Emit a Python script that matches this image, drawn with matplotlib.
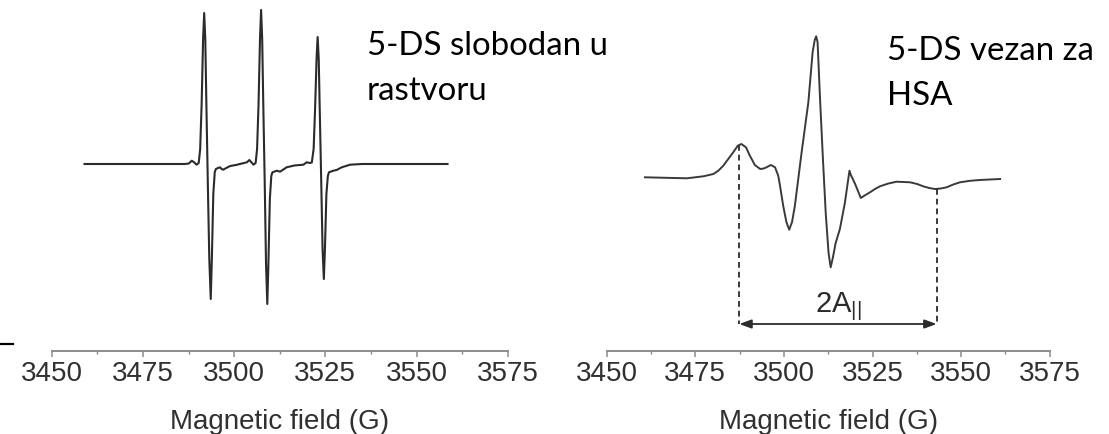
import matplotlib
matplotlib.use("Agg")
import matplotlib.pyplot as plt
from matplotlib.ticker import MultipleLocator

# ---- spectra: magnetic field (G) and derivative signal (arb. units) ----
free_field = [3459.0, 3486.5, 3487.6, 3488.4, 3489.1, 3489.7, 3490.3, 3490.7,
              3491.1, 3491.5, 3491.8, 3492.1, 3492.4, 3492.8, 3493.2, 3493.6,
              3493.9, 3494.3, 3494.7, 3495.0, 3495.6, 3496.1, 3496.6, 3497.0,
              3497.6, 3498.9, 3500.5, 3502.5, 3503.5, 3504.2, 3504.8, 3505.3,
              3505.9, 3506.3, 3506.7, 3507.1, 3507.4, 3507.7, 3508.0, 3508.4,
              3508.75, 3509.1, 3509.4, 3509.8, 3510.2, 3510.5, 3511.7, 3512.6,
              3514.4, 3516.5, 3519.0, 3519.9, 3520.7, 3521.3, 3521.8, 3522.2,
              3522.6, 3522.9, 3523.2, 3523.5, 3523.9, 3524.25, 3524.6, 3524.9,
              3525.3, 3525.7, 3526.0, 3527.2, 3528.1, 3529.5, 3531.8, 3535.0,
              3558.5]
free_signal = [0, 0, 0.5, 3.3, 1.5, -0.7, 1.0, 15,
               60, 125, 151, 125, 60, -20, -95, -135,
               -95, -30, -8, -5, -4, -3.3, -5.0, -5.7,
               -4.5, -2.0, -1.0, 0.8, 1.7, 4.0, 1.5, -0.7,
               1.0, 15, 60, 125, 154, 125, 60, -20,
               -100, -140, -100, -35, -12, -8.3, -6.7, -7.7,
               -3.3, -1.5, -0.7, 1.7, 1.0, 1.5, 15, 55,
               105, 127, 105, 50, -20, -85, -115, -85,
               -30, -12, -8.3, -6.7, -6.0, -3.3, -0.7, 0,
               0]

bound_field = [3460.8, 3472.6, 3477.3, 3480.1, 3481.5, 3482.9, 3484.3, 3485.7,
               3487.0, 3488.0, 3489.3, 3490.4, 3491.8, 3493.3, 3494.3, 3495.1,
               3496.3, 3497.5, 3498.4, 3498.9, 3499.8, 3500.7, 3501.5, 3502.3,
               3503.1, 3505.0, 3506.9, 3508.1, 3508.7, 3509.1, 3509.5, 3510.2,
               3511.0, 3511.8, 3512.6, 3513.2, 3513.8, 3514.6, 3515.8, 3517.2,
               3518.5, 3518.9, 3520.1, 3521.7, 3523.0, 3524.3, 3525.7, 3527.1,
               3529.5, 3531.8, 3535.6, 3537.6, 3539.3, 3541.0, 3542.6, 3544.3,
               3545.9, 3547.8, 3549.7, 3552.5, 3555.3, 3561.0]
bound_signal = [0.7, -0.3, 1.7, 4, 7.3, 12.3, 19, 25.7,
                32.3, 34, 30.7, 22.3, 13, 9, 9.5, 10.7,
                13, 10.7, 2.3, -7.7, -27.7, -44, -51.7, -44,
                -27.7, 25.7, 75.7, 125.7, 138, 141.7, 136, 79,
                20, -35, -75, -89.3, -80, -65, -51, -25,
                7.3, 3, -6, -20, -17, -14.3, -11, -8.3,
                -5.5, -3.7, -4.3, -6.0, -8.3, -10, -11, -10.5,
                -9.3, -6.5, -4.3, -2.8, -2, -1]

# hyperfine splitting 2A|| markers on the bound spectrum (G)
a_par_low = 3487.4
a_par_high = 3543.1

field_ticks = [3450, 3475, 3500, 3525, 3550, 3575]

assert len(free_field) == len(free_signal)
assert len(bound_field) == len(bound_signal)

tick_font = "Liberation Sans"
note_font = "Lato"
axis_grey = "#8c8c8c"
trace_col = "#2b2b2b"

plt.rcParams["mathtext.fontset"] = "custom"
plt.rcParams["mathtext.rm"] = tick_font
plt.rcParams["mathtext.it"] = tick_font

W, H = 1109, 435
fig = plt.figure(figsize=(W / 100, H / 100), dpi=100)
fig.patch.set_facecolor("white")


def px_axes(x0, x1, y_axis):
    """Axes whose bottom spine sits at pixel row y_axis, spanning x0..x1."""
    return fig.add_axes([x0 / W, (H - y_axis) / H, (x1 - x0) / W, y_axis / H])


def style_axis(ax):
    ax.set_xlim(field_ticks[0], field_ticks[-1])
    for s in ("left", "right", "top"):
        ax.spines[s].set_visible(False)
    ax.spines["bottom"].set_color(axis_grey)
    ax.spines["bottom"].set_linewidth(1.4)
    ax.set_yticks([])
    ax.set_xticks(field_ticks)
    ax.xaxis.set_minor_locator(MultipleLocator(12.5))
    ax.tick_params(axis="x", which="major", direction="out", length=4,
                   width=1.1, color=axis_grey, pad=3, labelsize=20,
                   labelcolor="#303030")
    ax.tick_params(axis="x", which="minor", direction="out", length=2.2,
                   width=1.0, color=axis_grey)
    for lab in ax.get_xticklabels():
        lab.set_fontfamily(tick_font)
    ax.patch.set_alpha(0)


# ---- free spin label ----
ax1 = px_axes(51.7, 507.7, 351.7)
ax1.set_ylim(165 - 351.7, 165)
style_axis(ax1)
ax1.plot(free_field, free_signal, color=trace_col, lw=1.5,
         solid_joinstyle="round")

# ---- HSA-bound spin label ----
ax2 = px_axes(606.7, 1049.7, 351.7)
ax2.set_ylim(179 - 351.7, 179)
style_axis(ax2)
ax2.plot(bound_field, bound_signal, color="#3a3a3a", lw=1.4,
         solid_joinstyle="round")

dash = (0, (3.2, 2.2))
ax2.plot([a_par_low, a_par_low], [33, -146], color="#2b2b2b", lw=1.3,
         linestyle=dash)
ax2.plot([a_par_high, a_par_high], [-11, -146], color="#2b2b2b", lw=1.3,
         linestyle=dash)
ax2.annotate("", xy=(a_par_low, -146), xytext=(a_par_high, -146),
             arrowprops=dict(arrowstyle="<|-|>,head_length=0.6,head_width=0.22",
                             color="#2b2b2b", lw=1.3, shrinkA=0, shrinkB=0,
                             mutation_scale=12))
ax2.text((a_par_low + a_par_high) / 2, -133, r"$\mathregular{2A_{||}}$",
         ha="center", va="baseline", fontsize=21, color="#2b2b2b",
         fontfamily=tick_font)

# ---- axis titles ----
for x0, x1 in ((51.7, 507.7), (606.7, 1049.7)):
    fig.text((x0 + x1) / 2 / W, (H - 429) / H, "Magnetic field (G)",
             ha="center", va="baseline", fontsize=20, color="#303030",
             fontfamily=tick_font)


# ---- panel captions ----
def caption(x, y_base, lines):
    for i, line in enumerate(lines):
        fig.text(x / W, (H - (y_base + 45 * i)) / H, line, ha="left",
                 va="baseline", fontsize=23.8, color="black",
                 fontfamily=note_font)


caption(366.7, 55, ["5-DS slobodan u", "rastvoru"])
caption(886.7, 60, ["5-DS vezan za", "HSA"])

# short rule at the left edge
fig.add_artist(plt.Line2D([0, 13 / W], [(H - 345) / H] * 2, color="black",
                          lw=1.6, transform=fig.transFigure))

fig.savefig("out.png", dpi=100, facecolor="white")
